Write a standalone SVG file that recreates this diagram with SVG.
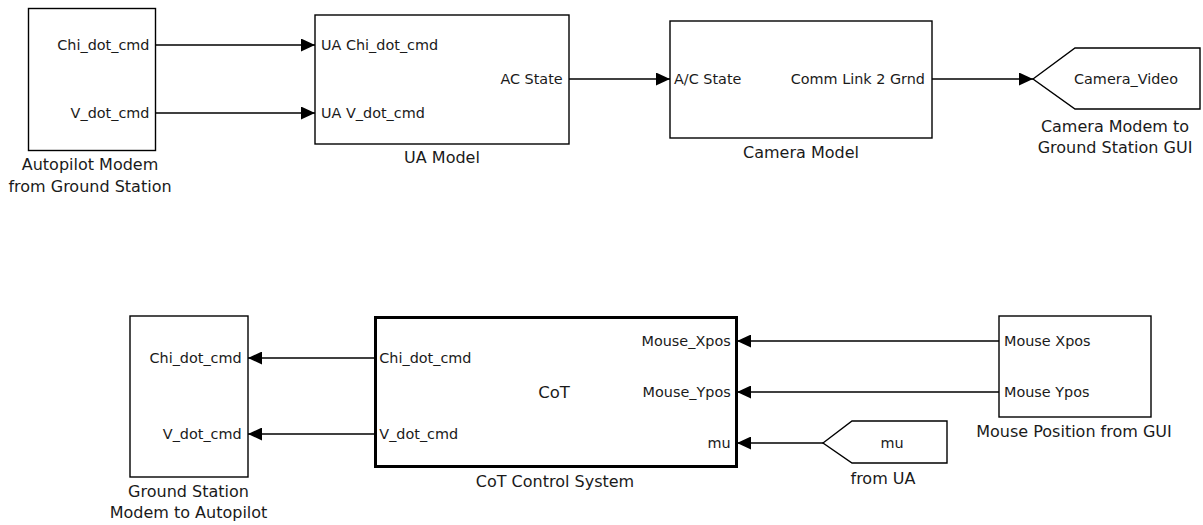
<svg xmlns="http://www.w3.org/2000/svg" width="1203" height="525" viewBox="0 0 1203 525">
<defs>
<marker id="arr" viewBox="0 0 14 13" refX="14" refY="6.5" markerWidth="14" markerHeight="13" markerUnits="userSpaceOnUse" orient="auto">
<path d="M0,0 L14,6.5 L0,13 Z" fill="#000"/>
</marker>
</defs>
<style>
.blk{fill:#fff;stroke:#000;stroke-width:1.4}
.thick{fill:#fff;stroke:#000;stroke-width:3}
.wire{fill:none;stroke:#000;stroke-width:1.4;marker-end:url(#arr)}
text{font-family:"DejaVu Sans","Liberation Sans",sans-serif;fill:#1a1a1a}
.port{font-size:14.4px}
.cap{font-size:16px;text-anchor:middle}
.r{text-anchor:end}
.m{text-anchor:middle}
</style>
<rect width="1203" height="525" fill="#fff"/>
<g id="connectors">
<path class="wire" d="M156,45 H315"/>
<path class="wire" d="M156,113 H315"/>
<path class="wire" d="M569,79 H670"/>
<path class="wire" d="M932,79 H1033"/>
<path class="wire" d="M375,358 H248"/>
<path class="wire" d="M375,434 H248"/>
<path class="wire" d="M999,341 H737"/>
<path class="wire" d="M999,392 H737"/>
<path class="wire" d="M823,443 H737"/>
</g>
<g id="autopilot">
<rect class="blk" x="28.5" y="8.5" width="127" height="142"/>
<text class="port r" x="149.5" y="50.2">Chi_dot_cmd</text>
<text class="port r" x="149.5" y="118.2">V_dot_cmd</text>
<text class="cap" x="90" y="170">Autopilot Modem</text>
<text class="cap" x="90" y="192">from Ground Station</text>
</g>
<g id="ua_model">
<rect class="blk" x="315" y="15" width="254" height="129"/>
<text class="port" x="321" y="50.2">UA Chi_dot_cmd</text>
<text class="port" x="321" y="118.2">UA V_dot_cmd</text>
<text class="port r" x="562.7" y="84.2">AC State</text>
<text class="cap" x="442" y="163">UA Model</text>
</g>
<g id="camera_model">
<rect class="blk" x="670" y="21" width="262" height="117"/>
<text class="port" x="674" y="84.2">A/C State</text>
<text class="port r" x="925" y="84.2">Comm Link 2 Grnd</text>
<text class="cap" x="801" y="158">Camera Model</text>
</g>
<g id="camera_goto">
<polygon class="blk" points="1033,79 1075,48 1200,48 1200,109 1075,109"/>
<text class="port m" x="1126" y="84.2">Camera_Video</text>
<text class="cap" x="1115" y="131.5">Camera Modem to</text>
<text class="cap" x="1115" y="152.5">Ground Station GUI</text>
</g>
<g id="ground_station">
<rect class="blk" x="130" y="316" width="118" height="161"/>
<text class="port r" x="241.7" y="363.2">Chi_dot_cmd</text>
<text class="port r" x="241.7" y="439.2">V_dot_cmd</text>
<text class="cap" x="188.5" y="496.5">Ground Station</text>
<text class="cap" x="188.5" y="518">Modem to Autopilot</text>
</g>
<g id="cot">
<rect class="thick" x="375.5" y="317.5" width="361" height="149"/>
<text class="port" x="379.3" y="363.2" font-size="14.2px">Chi_dot_cmd</text>
<text class="port" x="379.3" y="439.2" font-size="14.2px">V_dot_cmd</text>
<text class="port r" x="730.7" y="346" font-size="14px">Mouse_Xpos</text>
<text class="port r" x="730.7" y="397" font-size="14px">Mouse_Ypos</text>
<text class="port r" x="730.7" y="448" font-size="14px">mu</text>
<text class="m" x="554" y="397.5" font-size="16.5px">CoT</text>
<text class="cap" x="555" y="486.5">CoT Control System</text>
</g>
<g id="mouse_position">
<rect class="blk" x="999" y="316" width="152" height="101"/>
<text class="port" x="1004" y="346" font-size="14px">Mouse Xpos</text>
<text class="port" x="1004" y="397" font-size="14px">Mouse Ypos</text>
<text class="cap" x="1074" y="437">Mouse Position from GUI</text>
</g>
<g id="from_ua">
<polygon class="blk" points="823,443 852,421 947,421 947,463 852,463"/>
<text class="port m" x="892" y="448.2">mu</text>
<text class="cap" x="883" y="484">from UA</text>
</g>
</svg>
